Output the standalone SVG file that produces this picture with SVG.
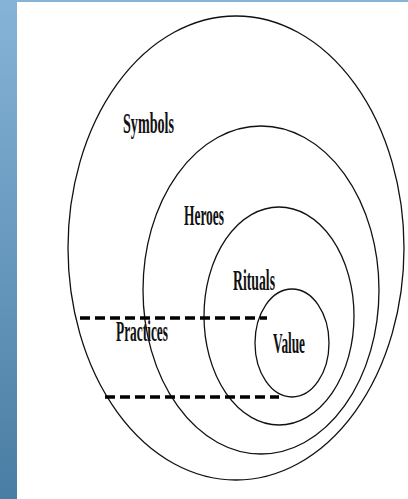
<svg xmlns="http://www.w3.org/2000/svg" width="408" height="499" viewBox="0 0 408 499">
<defs>
<linearGradient id="blue" x1="0" y1="0" x2="0" y2="1">
<stop offset="0" stop-color="#86b4d8"/>
<stop offset="1" stop-color="#4a7da3"/>
</linearGradient>
<style>
.ring{fill:none;stroke:#111;stroke-width:1.3}
.dash{fill:none;stroke:#000;stroke-width:3.5;stroke-dasharray:10 5}
.lbl{font-family:"Liberation Serif","Times New Roman",serif;font-size:30px;font-weight:bold;fill:#111}
</style>
</defs>
<rect x="0" y="0" width="408" height="499" fill="#fff"/>
<rect x="0" y="0" width="408" height="2" fill="#86b4d8"/>
<rect x="0" y="0" width="17" height="499" fill="url(#blue)"/>
<g id="symbols">
<ellipse class="ring" cx="236" cy="248" rx="168" ry="232"/>
<text class="lbl" x="123" y="133" textLength="51" lengthAdjust="spacingAndGlyphs">Symbols</text>
</g>
<g id="heroes">
<ellipse class="ring" cx="261" cy="290" rx="118" ry="164"/>
<text class="lbl" x="184" y="225" textLength="40" lengthAdjust="spacingAndGlyphs">Heroes</text>
</g>
<g id="rituals">
<ellipse class="ring" cx="279" cy="316" rx="75" ry="109"/>
<text class="lbl" x="233" y="290" textLength="42" lengthAdjust="spacingAndGlyphs">Rituals</text>
</g>
<g id="value">
<ellipse class="ring" cx="292" cy="343" rx="37" ry="54"/>
<text class="lbl" x="273" y="353" textLength="32" lengthAdjust="spacingAndGlyphs">Value</text>
</g>
<g id="practices">
<text class="lbl" x="116" y="341" textLength="52" lengthAdjust="spacingAndGlyphs">Practices</text>
</g>
<g id="connectors">
<line class="dash" x1="80" y1="318" x2="267" y2="318"/>
<line class="dash" x1="105" y1="397" x2="279" y2="397"/>
</g>
</svg>
